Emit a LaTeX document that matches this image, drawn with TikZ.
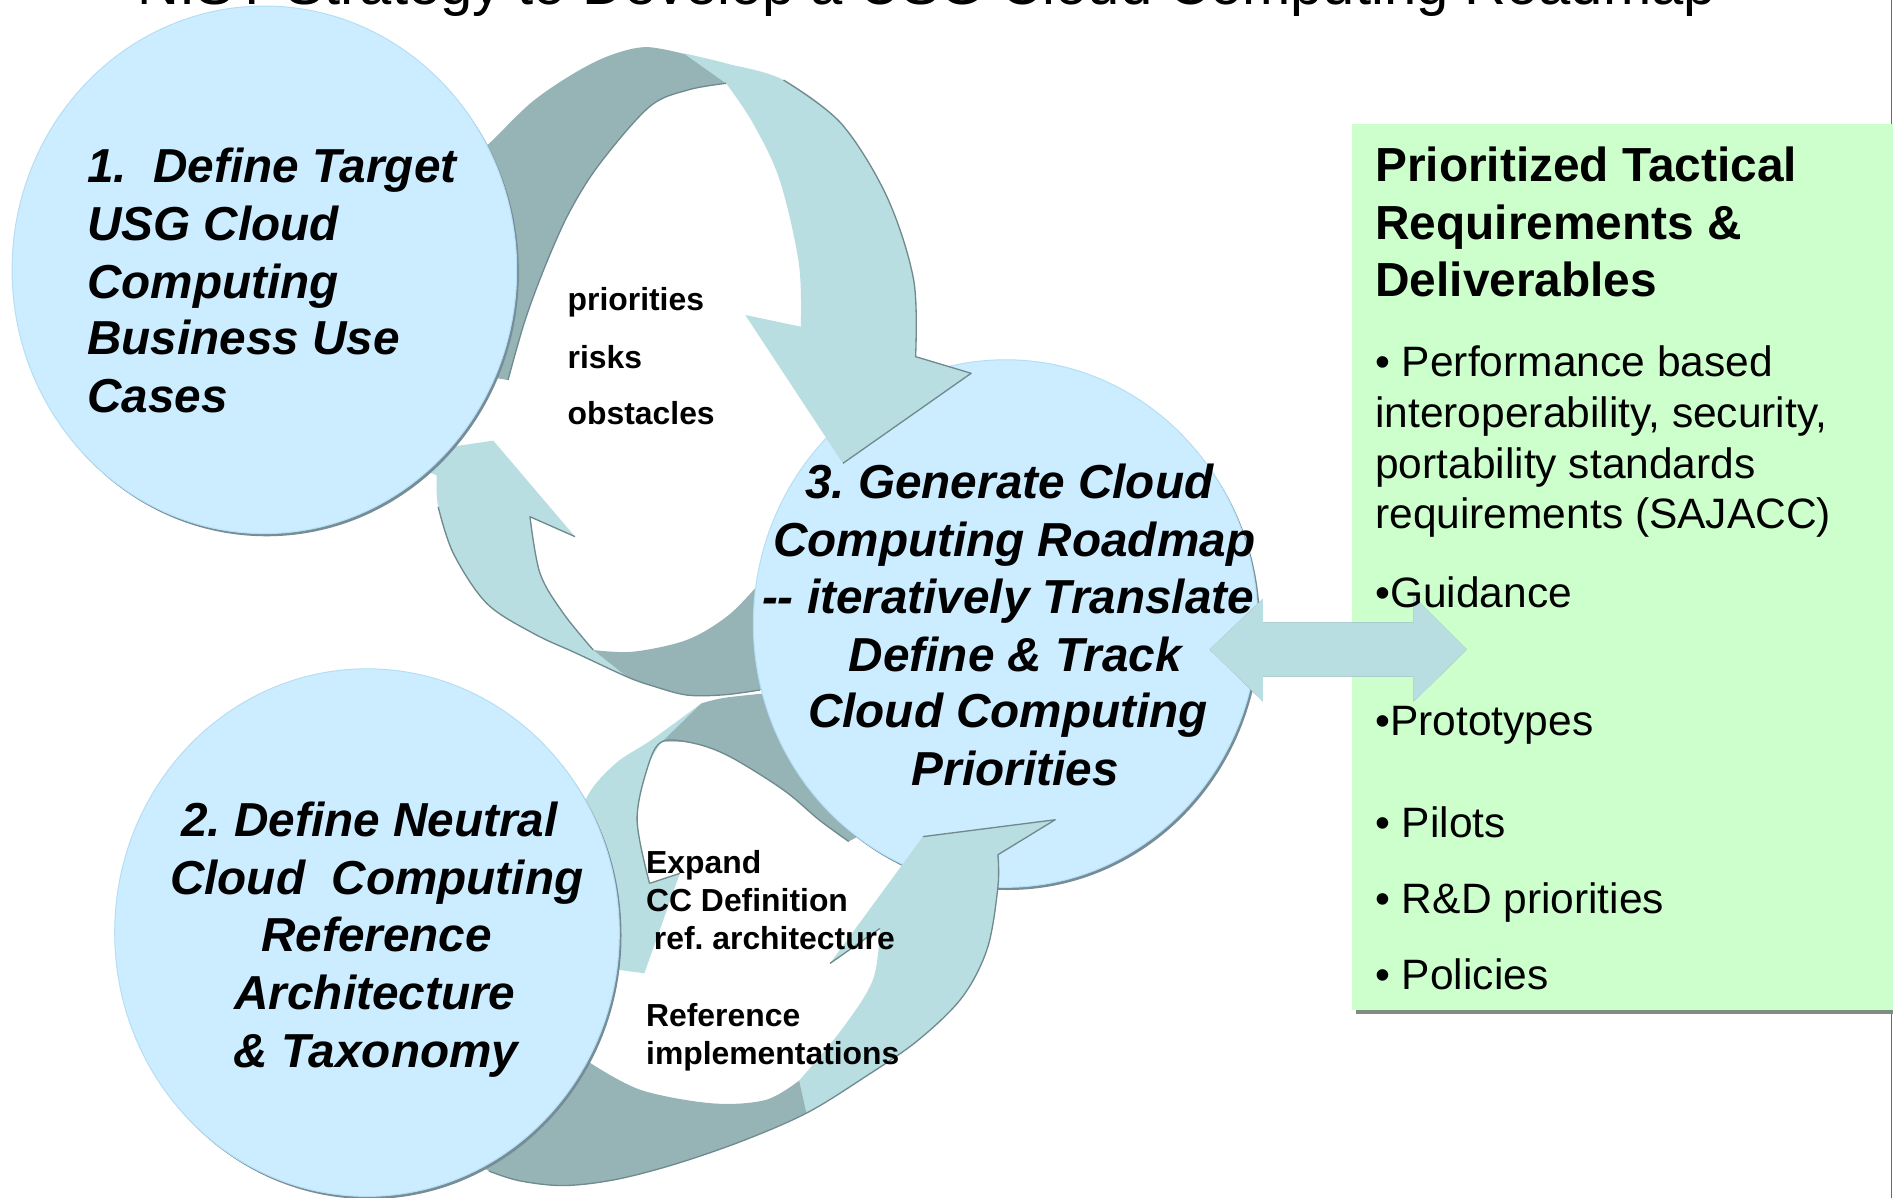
\documentclass[tikz,border=0pt]{standalone}
\usepackage{fontspec}
\setmainfont{Liberation Sans}
\usetikzlibrary{shapes.geometric,calc}
\frenchspacing
\definecolor{circfill}{RGB}{204,236,255}
\definecolor{circshadow}{RGB}{118,140,150}
\definecolor{circrim}{RGB}{180,222,244}
\definecolor{ribbonlight}{RGB}{184,222,225}
\definecolor{ribbondark}{RGB}{150,180,182}
\definecolor{ribbonedge}{RGB}{112,138,142}
\definecolor{boxfill}{RGB}{204,255,204}
\definecolor{boxshadow}{RGB}{128,140,128}
\definecolor{borderline}{RGB}{105,105,105}
\begin{document}
\begin{tikzpicture}[x=1pt,y=-1pt,
  circ/.style={ellipse, minimum width=418pt, minimum height=437pt, inner sep=0pt, outer sep=0pt, fill=circfill, draw=circrim, line width=0.8pt},
  circshade/.style={ellipse, minimum width=418pt, minimum height=437pt, inner sep=0pt, outer sep=0pt, fill=circshadow},
  ctext/.style={font=\fontsize{39.5}{48}\selectfont\bfseries\itshape, inner sep=0pt},
  lbl/.style={font=\fontsize{26.4}{31}\selectfont\bfseries, inner sep=0pt, anchor=base west},
  bhead/.style={font=\fontsize{39.6}{48}\selectfont\bfseries, inner sep=0pt, anchor=base west},
  bitem/.style={font=\fontsize{35.2}{42}\selectfont, inner sep=0pt, anchor=base west},
  ttl/.style={font=\fontsize{48}{56}\selectfont, inner sep=0pt, anchor=base west},
  ribline/.style={draw=ribbonedge, line width=1.1pt, line join=round},
  rs/.style={smooth, tension=0.55}]
\useasboundingbox (0,0) rectangle (1568,992);
\clip (0,0) rectangle (1568,992);
\fill[white] (0,0) rectangle (1568,992);

% title (cut off at the top, as in the original slide)
\node[ttl] (title) at (114,4) {NIST Strategy to Develop a USG Cloud Computing Roadmap};

% right border line and green box
\draw[borderline, line width=1.3pt] (1566.8,0) -- (1566.8,992);
\fill[boxshadow] (1123,106) rectangle (1572,840);
\node[fill=boxfill, inner sep=0pt, outer sep=0pt, anchor=north west, minimum width=452pt, minimum height=734pt] (box) at (1120,103) {};

% arrow C (circle 3 -> circle 2)
\fill[ribbonlight] (376.7,785) -- (533.7,806.2) -- (563.2,723.4) -- (538,731.7)
  -- plot[rs] coordinates {(538,731.7) (527.7,679.2) (536.6,635) (548.4,614.3)}
  -- plot[rs] coordinates {(581,582.6) (539.6,612.9) (510,632.3) (486.3,659.9) (475,700) (478,751.5)} -- cycle;
\fill[ribbondark] plot[rs] coordinates {(548.4,614.3) (575,615.7) (604.7,626.8) (649,654.4) (678.6,679.2) (703,697)}
  -- (716,690) -- (740,640) -- (660,568)
  -- plot[rs] coordinates {(634.2,574.3) (600,578) (581,582.6)} -- cycle;
\draw[ribline] plot[rs] coordinates {(538,731.7) (527.7,679.2) (536.6,635) (548.4,614.3) (575,615.7) (604.7,626.8) (649,654.4) (678.6,679.2) (703,697)};
\draw[ribline] (563.2,723.4) -- (538,731.7);

% arrow B (circle 3 -> circle 1)
\fill[ribbonlight] (324,377.3) -- (408.6,365) -- (476.3,444.5) -- (439,428)
  -- plot[rs] coordinates {(439,428) (447.3,474.9) (466.6,508) (491.4,538.4)}
  -- plot[rs] coordinates {(519.1,560.5) (477.6,541.2) (441.7,524.6) (403.1,499.7) (375.5,458.3) (363,420) (361.7,393.8)} -- cycle;
\fill[ribbondark] plot[rs] coordinates {(491.4,538.4) (524.6,539.8) (568.8,530.1) (601.9,510.8) (626.7,486) (645,465)}
  -- (660,580)
  -- plot[rs] coordinates {(629.5,571.5) (600,575.5) (568.8,575.7) (540,568) (519.1,560.5)} -- cycle;
\draw[ribline] (476.3,444.5) -- (439,428) -- plot[rs] coordinates {(439,428) (447.3,474.9) (466.6,508) (491.4,538.4)};
\draw[ribline] plot[rs] coordinates {(363,420) (375.5,458.3) (403.1,499.7) (441.7,524.6) (477.6,541.2) (519.1,560.5) (540,568) (568.8,575.7) (600,575.5) (629.5,571.5)};

% circle 3
\coordinate (p3) at (833,516.5);
\node[circshade] (c3s) at ($(p3)+(1.8,2.2)$) {};
\node[circ] (c3) at (p3) {};

% arrow A (circle 1 -> circle 3)
\fill[ribbondark] plot[rs] coordinates {(392,128) (405,119) (440,85) (475,61) (505,46) (535,39) (568,45)}
  -- plot[rs] coordinates {(601.5,69) (570,74.5) (538,88.4) (497,135.3) (472,175) (452.5,218.1) (435,265) (420.8,314.8)}
  -- (410,313) -- (388,300) -- cycle;
\fill[ribbonlight] plot[rs] coordinates {(566,44) (601.5,52.5) (649,66.3) (696.6,102.1) (734.6,162.9) (756.8,231.9) (758.4,295.4)}
  -- (804.4,309.2) -- (698.2,383.8) -- (617.3,260.9) -- (663.3,270.6)
  -- plot[rs] coordinates {(663.3,270.6) (661.7,218.1) (645.8,149.1) (623.7,102.1) (601.5,69)} -- cycle;
\draw[ribline] plot[rs] coordinates {(601.5,69) (570,74.5) (538,88.4) (497,135.3) (472,175) (452.5,218.1) (435,265) (420.8,314.8)};
\draw[ribline] plot[rs] coordinates {(649,66.3) (696.6,102.1) (734.6,162.9) (756.8,231.9) (758.4,295.4)} -- (804.4,309.2) -- (698.2,383.8);

% arrow D (circle 2 -> circle 3)
\fill[ribbonlight] (728.9,769) -- (687.5,798) -- (764.4,693) -- (874,679) -- (826.6,708)
  -- plot[rs] coordinates {(826.6,708) (826.6,734.4) (818,785) (797,826) (760,862) (715,893) (668,922)}
  -- plot[rs] coordinates {(662,895) (697,853) (723,811.7) (728.9,769)} -- cycle;
\fill[ribbondark] plot[rs] coordinates {(662,895) (634.2,911.1) (589.8,913.9) (530.7,902.8) (489.3,880.7)}
  -- (460,880) -- (390,960)
  -- plot[rs] coordinates {(405,970) (430,978) (467,982) (510,977) (560,964) (615,945) (668,922)} -- cycle;
\draw[ribline] (687.5,798) -- (728.9,769);
\draw[ribline] (764.4,693) -- (874,679) -- (826.6,708)
  -- plot[rs] coordinates {(826.6,708) (826.6,734.4) (818,785) (797,826) (760,862) (715,893) (668,922) (615,945) (560,964) (510,977) (467,982) (430,978) (405,970)};

% circles 1 and 2
\coordinate (p1) at (219,223.5);
\node[circshade] (c1s) at ($(p1)+(1.8,2.2)$) {};
\node[circ] (c1) at (p1) {};
\coordinate (p2) at (304,772.5);
\node[circshade] (c2s) at ($(p2)+(1.8,2.2)$) {};
\node[circ] (c2) at (p2) {};

% double arrow between circle 3 and the box
\coordinate (e1) at (1002,538);
\coordinate (e2) at (1215,538);
\begin{scope}[shift={(1.6,1.8)}]
\fill[ribbonedge] (e1) -- ++(44,-42) -- ++(0,19.5) -- ++(125,0) -- ++(0,-21.5) -- (e2) -- ++(-44,43) -- ++(0,-20.5) -- ++(-125,0) -- ++(0,20.5) -- cycle;
\end{scope}
\fill[ribbonlight] (e1) -- ++(44,-42) -- ++(0,19.5) -- ++(125,0) -- ++(0,-21.5) -- (e2) -- ++(-44,43) -- ++(0,-20.5) -- ++(-125,0) -- ++(0,20.5) -- cycle;

% circle texts
\node[ctext, anchor=base west] (t1a) at (72,151) {1.\ \ Define Target};
\node[ctext, anchor=base west] (t1b) at (72,199) {USG Cloud};
\node[ctext, anchor=base west] (t1c) at (72,247) {Computing};
\node[ctext, anchor=base west] (t1d) at (72,294) {Business Use};
\node[ctext, anchor=base west] (t1e) at (72,342) {Cases};

\node[ctext, anchor=base] (t2a) at (306,693) {2. Define Neutral};
\node[ctext, anchor=base] (t2b) at (312,741) {Cloud\ \ Computing};
\node[ctext, anchor=base] (t2c) at (312,788) {Reference};
\node[ctext, anchor=base] (t2d) at (310.5,836) {Architecture};
\node[ctext, anchor=base] (t2e) at (311.5,884) {\& Taxonomy};

\node[ctext, anchor=base] (t3a) at (836,413) {3. Generate Cloud};
\node[ctext, anchor=base] (t3b) at (840,461) {Computing Roadmap};
\node[ctext, anchor=base] (t3c) at (835,508) {-{}- iteratively Translate};
\node[ctext, anchor=base] (t3d) at (841,556) {Define \& Track};
\node[ctext, anchor=base] (t3e) at (835,603) {Cloud Computing};
\node[ctext, anchor=base] (t3f) at (841,651) {Priorities};

% arrow labels
\node[lbl] (la) at (470,257) {priorities};
\node[lbl] (lb) at (470,305) {risks};
\node[lbl] (lc) at (470,352) {obstacles};
\node[lbl] (ld) at (535,723.5) {Expand};
\node[lbl] (le) at (535,755) {CC Definition};
\node[lbl] (lf) at (541.5,786.5) {ref. architecture};
\node[lbl] (lg) at (535,850.5) {Reference};
\node[lbl] (lh) at (535,882) {implementations};

% box texts
\node[bhead] (h1) at (1139,150.5) {Prioritized Tactical};
\node[bhead] (h2) at (1139,198.5) {Requirements \&};
\node[bhead] (h3) at (1139,246) {Deliverables};
\node[bitem] (i1) at (1139,312) {• Performance based};
\node[bitem] (i2) at (1139,354) {interoperability, security,};
\node[bitem] (i3) at (1139,396) {portability standards};
\node[bitem] (i4) at (1139,438) {requirements (SAJACC)};
\node[bitem] (i5) at (1139,503) {•Guidance};
\node[bitem] (i6) at (1139,609) {•Prototypes};
\node[bitem] (i7) at (1139,694) {• Pilots};
\node[bitem] (i8) at (1139,757) {• R\&D priorities};
\node[bitem] (i9) at (1139,820) {• Policies};
\end{tikzpicture}
\end{document}
